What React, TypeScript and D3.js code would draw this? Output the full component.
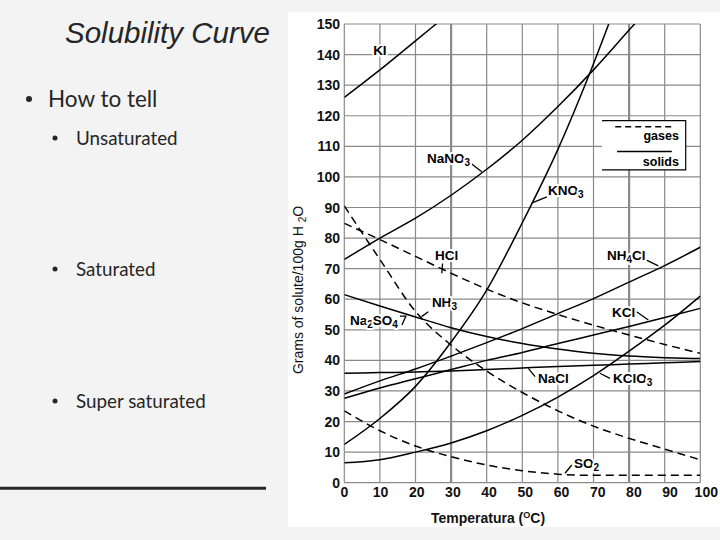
import React from 'react';
import * as d3 from 'd3';

// ---------- data ----------
const TEMPS = [0, 10, 20, 30, 40, 50, 60, 70, 80, 90, 100];
const KI = [126, 135, 144.5, 154, null, null, null, null, null, null, null];
const NaNO3 = [73, 80, 86.5, 94, 102.5, 112, 123, 135, 148, 161, null];
const KNO3 = [12.5, 21, 31.5, 46, 63, 85, 109, 137, 168, null, null];
const NH4Cl = [29, 33.3, 37.2, 41.4, 45.8, 50.4, 55.3, 60.2, 65.6, 71, 77];
const KCl = [27.6, 31, 34, 37, 40, 42.6, 45.5, 48.3, 51.1, 54, 57];
const KClO3 = [6.5, 7.5, 10, 13, 17, 22, 28, 35, 43, 51.5, 61];
const NaCl = [35.8, 36, 36.2, 36.5, 37, 37.5, 38, 38.4, 38.8, 39.2, 39.6];
const Na2SO4 = [61.5, 57.8, 54.2, 50.7, 47.8, 45.5, 43.7, 42.3, 41.4, 40.9, 40.6];
const HCl = [84.8, 79.5, 74, 68.5, 63.3, 58.8, 55, 51.5, 48.3, 45.2, 42.3];
const NH3 = [90.5, 73, 56, 45, 36.5, 29.5, 23.5, 18.5, 14.5, 11, 7.5];
const SO2 = [23.5, 17, 12, 8.5, 5.8, 3.9, 2.8, 2.4, 2.4, 2.4, 2.4];

const SOLIDS = [KI, NaNO3, KNO3, NH4Cl, KCl, KClO3, NaCl, Na2SO4];
const GASES = [HCl, NH3, SO2];

const X_TICKS = [0, 10, 20, 30, 40, 50, 60, 70, 80, 90, 100];
const Y_TICKS = [0, 10, 20, 30, 40, 50, 60, 70, 80, 90, 100, 110, 120, 130, 140, 150];
const HEAVY_X = [30, 80];

// label anchors in data units [temp, grams], parts: [text, sub?]
type Part = [string, boolean];
const LABELS: { at: [number, number]; parts: Part[]; ptr?: [number, number][] }[] = [
  { at: [8.1, 139.8], parts: [['KI', false]] },
  { at: [23.2, 104.5], parts: [['NaNO', false], ['3', true]], ptr: [[35.8, 104.2], [38.6, 101.7]] },
  { at: [57.2, 94.0], parts: [['KNO', false], ['3', true]], ptr: [[56.9, 93.5], [52.6, 91.4]] },
  { at: [25.5, 72.8], parts: [['HCl', false]], ptr: [[27.6, 71.7], [27.4, 68.5]] },
  { at: [73.8, 72.8], parts: [['NH', false], ['4', true], ['Cl', false]], ptr: [[84.9, 72.8], [88.2, 70.9]] },
  { at: [24.6, 57.5], parts: [['NH', false], ['3', true]], ptr: [[23.6, 55.9], [21.7, 54.3]] },
  { at: [1.6, 51.6], parts: [['Na', false], ['2', true], ['SO', false], ['4', true]], ptr: [[15.6, 54.5], [17.3, 54.5], [16.2, 51.6]] },
  { at: [75.2, 54.2], parts: [['KCl', false]], ptr: [[82.1, 55.9], [85.4, 53.2]] },
  { at: [54.4, 32.6], parts: [['NaCl', false]], ptr: [[53.6, 34.7], [51.7, 37.4]] },
  { at: [75.5, 32.6], parts: [['KClO', false], ['3', true]], ptr: [[74.6, 34.1], [71.8, 35.8]] },
  { at: [64.5, 4.8], parts: [['SO', false], ['2', true]], ptr: [[63.9, 5.8], [62.0, 3.1]] },
];

const BULLETS: { text: string; level: number; y: number }[] = [
  { text: 'How to tell', level: 1, y: 107 },
  { text: 'Unsaturated', level: 2, y: 145 },
  { text: 'Saturated', level: 2, y: 276 },
  { text: 'Super saturated', level: 2, y: 408 },
];

const ARIAL = '"Liberation Sans", Arial, Helvetica, sans-serif';

export default function App() {
  const x = d3.scaleLinear().domain([0, 100]).range([344.3, 700.3]);
  const y = d3.scaleLinear().domain([0, 150]).range([482.7, 24]);
  const line = d3
    .line<[number, number | null]>()
    .defined((d) => d[1] != null)
    .x((d) => x(d[0]))
    .y((d) => y(d[1] as number))
    .curve(d3.curveMonotoneX);
  const pts = (arr: (number | null)[]) => TEMPS.map((t, i) => [t, arr[i]] as [number, number | null]);
  const ptrLine = d3.line<[number, number]>().x((d) => x(d[0])).y((d) => y(d[1]));

  const x0 = x(0), x1 = x(100), y0 = y(0), y1 = y(150);

  const renderParts = (parts: Part[]) => {
    const out: React.ReactNode[] = [];
    let sub = false;
    parts.forEach(([s, isSub], i) => {
      let dy = 0;
      if (isSub && !sub) dy = 3;
      if (!isSub && sub) dy = -3;
      sub = isSub;
      out.push(
        <tspan key={i} dy={dy} fontSize={isSub ? 10 : 13.5}>
          {s}
        </tspan>
      );
    });
    return out;
  };

  return (
    <svg width={720} height={540} style={{ position: 'absolute', left: 0, top: 0, display: 'block' }}>
      <defs>
        <clipPath id="plot">
          <rect x={x0} y={y1} width={x1 - x0} height={y0 - y1} />
        </clipPath>
      </defs>
      <rect x={0} y={0} width={720} height={540} fill="#f3f3f3" />

      {/* slide text */}
      <text x={65} y={42.7} fontFamily={ARIAL} fontStyle="italic" fontSize={29.5} fill="#262626">
        Solubility Curve
      </text>
      {BULLETS.map((b, i) => (
        <g key={i}>
          <circle cx={b.level === 1 ? 29 : 55} cy={b.level === 1 ? b.y - 8 : b.y - 7} r={b.level === 1 ? 3 : 2.5} fill="#262626" />
          <text
            x={b.level === 1 ? 48 : 76}
            y={b.y}
            fontFamily="Lato, 'Open Sans', sans-serif"
            fontSize={b.level === 1 ? 22.5 : 18.8}
            fill="#262626"
          >
            {b.text}
          </text>
        </g>
      ))}
      <line x1={0} x2={266} y1={488.3} y2={488.3} stroke="#262626" strokeWidth={3} />

      {/* chart panel */}
      <rect x={288} y={12} width={432} height={515} fill="#ffffff" />

      {/* grid */}
      {X_TICKS.map((t) => (
        <line
          key={'gx' + t}
          x1={x(t)}
          x2={x(t)}
          y1={y1}
          y2={y0}
          stroke="#8a8a8a"
          strokeWidth={HEAVY_X.includes(t) ? 2.2 : 1.2}
        />
      ))}
      {Y_TICKS.map((t) => (
        <line key={'gy' + t} x1={x0} x2={x1} y1={y(t)} y2={y(t)} stroke="#8a8a8a" strokeWidth={1.2} />
      ))}

      {/* tick labels */}
      {Y_TICKS.map((t) => (
        <text
          key={'ty' + t}
          x={340}
          y={y(t)}
          dy="0.36em"
          textAnchor="end"
          fontFamily={ARIAL}
          fontWeight="bold"
          fontSize={14}
          fill="#111"
        >
          {t}
        </text>
      ))}
      {X_TICKS.map((t) => (
        <text
          key={'tx' + t}
          x={x(t) + (t / 100) * 6}
          y={497}
          textAnchor="middle"
          fontFamily={ARIAL}
          fontWeight="bold"
          fontSize={14}
          fill="#111"
        >
          {t}
        </text>
      ))}

      {/* axis titles */}
      <text x={488} y={523} textAnchor="middle" fontFamily={ARIAL} fontWeight="bold" fontSize={14} fill="#111">
        Temperatura (<tspan fontSize={9} dy={-5}>O</tspan>
        <tspan dy={5}>C)</tspan>
      </text>
      <text
        transform="translate(303,290) rotate(-90)"
        textAnchor="middle"
        fontFamily={ARIAL}
        fontSize={14}
        fill="#111"
      >
        Grams of solute/100g H <tspan fontSize={10} dy={3}>2</tspan>
        <tspan dy={-3}>O</tspan>
      </text>

      {/* curves */}
      <g clipPath="url(#plot)" fill="none" stroke="#000">
        {SOLIDS.map((s, i) => (
          <path key={'s' + i} d={line(pts(s)) || ''} strokeWidth={1.5} />
        ))}
        {GASES.map((s, i) => (
          <path key={'g' + i} d={line(pts(s)) || ''} strokeWidth={1.5} strokeDasharray="8 5" />
        ))}
      </g>

      {/* labels */}
      {LABELS.map((l, i) => (
        <g key={'l' + i}>
          {l.ptr && <path d={ptrLine(l.ptr) || ''} fill="none" stroke="#000" strokeWidth={1.3} />}
          <text
            x={x(l.at[0])}
            y={y(l.at[1])}
            fontFamily={ARIAL}
            fontWeight="bold"
            fontSize={13.5}
            fill="#000"
            stroke="#fff"
            strokeWidth={4}
            strokeLinejoin="round"
            paintOrder="stroke"
          >
            {renderParts(l.parts)}
          </text>
        </g>
      ))}

      {/* legend */}
      <g>
        <rect x={x(72.4)} y={y(118.4)} width={x(95.9) - x(72.4)} height={y(102.3) - y(118.4)} fill="#fff" />
        <path
          d={`M${x(72.4)},${y(118.4)}H${x(95.9)}V${y(102.3)}H${x(72.4)}`}
          fill="none"
          stroke="#000"
          strokeWidth={1.2}
        />
        <line x1={x(76.1)} x2={x(92)} y1={y(116.4)} y2={y(116.4)} stroke="#000" strokeWidth={1.3} strokeDasharray="6 4" />
        <text x={x(94)} y={y(112)} textAnchor="end" fontFamily={ARIAL} fontWeight="bold" fontSize={12.5} fill="#000">
          gases
        </text>
        <line x1={x(76.6)} x2={x(92)} y1={y(108.3)} y2={y(108.3)} stroke="#000" strokeWidth={1.3} />
        <text x={x(94)} y={y(103.5)} textAnchor="end" fontFamily={ARIAL} fontWeight="bold" fontSize={12.5} fill="#000">
          solids
        </text>
      </g>
    </svg>
  );
}
